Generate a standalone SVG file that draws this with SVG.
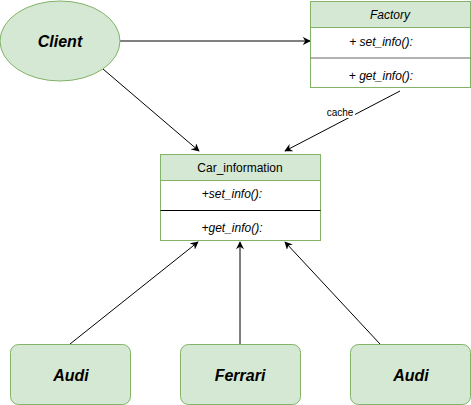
<svg xmlns="http://www.w3.org/2000/svg" width="471" height="405" viewBox="0 0 471 405">
<defs>
<marker id="ah" viewBox="0 0 10 10" refX="9" refY="5" markerWidth="8" markerHeight="8" markerUnits="userSpaceOnUse" orient="auto">
<path d="M0,0 L10,5 L0,10 L3,5 Z" fill="#000"/>
</marker>
</defs>
<style>
.g{fill:#d5e8d4;stroke:#82b366;stroke-width:1}
.w{fill:#fff;stroke:#82b366;stroke-width:1}
.t{font-family:"Liberation Sans",Arial,sans-serif;fill:#000;text-anchor:middle}
.big{font-size:16px;font-weight:bold;font-style:italic}
.sm{font-size:12px;font-style:italic}
.c{stroke:#000;stroke-width:1;fill:none;marker-end:url(#ah)}
</style>
<rect width="471" height="405" fill="#fff"/>
<g id="connectors">
<line class="c" x1="120" y1="41" x2="310" y2="41"/>
<line class="c" x1="103" y1="69" x2="199" y2="151"/>
<line class="c" x1="400" y1="91" x2="285" y2="151"/>
<rect x="325" y="106" width="30" height="12" fill="#fff"/>
<text class="t" x="340" y="116" style="font-size:10px">cache</text>
<line class="c" x1="70" y1="344" x2="198" y2="242"/>
<line class="c" x1="240" y1="344" x2="240" y2="242"/>
<line class="c" x1="380" y1="344" x2="285" y2="242"/>
</g>
<g id="client">
<ellipse class="g" cx="60" cy="41" rx="60" ry="40"/>
<text class="t big" x="60" y="47">Client</text>
</g>
<g id="factory">
<rect class="w" x="310.5" y="1.5" width="160" height="86"/>
<rect class="g" x="310.5" y="1.5" width="160" height="26"/>
<line x1="310.5" y1="58" x2="470.5" y2="58" stroke="#666" stroke-width="1"/>
<text class="t sm" x="390" y="19">Factory</text>
<text class="t sm" x="381" y="46">+ set_info():</text>
<text class="t sm" x="381" y="80">+ get_info():</text>
</g>
<g id="car_information">
<rect class="w" x="160.5" y="154.5" width="160" height="86"/>
<rect class="g" x="160.5" y="154.5" width="160" height="26"/>
<line x1="160.5" y1="210.5" x2="320.5" y2="210.5" stroke="#000" stroke-width="1"/>
<text class="t" x="240" y="172" style="font-size:12px">Car_information</text>
<text class="t sm" x="232" y="198">+set_info():</text>
<text class="t sm" x="232" y="232">+get_info():</text>
</g>
<g id="audi1">
<rect class="g" x="10.5" y="344.5" width="120" height="60" rx="8"/>
<text class="t big" x="71" y="381">Audi</text>
</g>
<g id="ferrari">
<rect class="g" x="180.5" y="344.5" width="120" height="60" rx="8"/>
<text class="t big" x="240" y="381">Ferrari</text>
</g>
<g id="audi2">
<rect class="g" x="350.5" y="344.5" width="120" height="60" rx="8"/>
<text class="t big" x="411" y="381">Audi</text>
</g>
</svg>
